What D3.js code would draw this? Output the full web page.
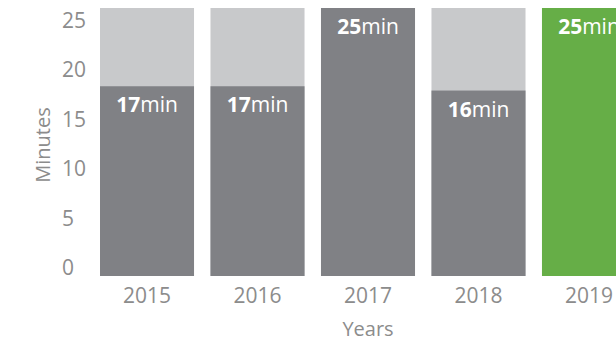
<!DOCTYPE html>
<html>
<head>
<meta charset="utf-8">
<script src="https://cdn.jsdelivr.net/npm/d3@7"></script>
<style>
  html, body { margin: 0; padding: 0; background: #fff; }
  svg { display: block; font-family: "Open Sans", sans-serif; }
</style>
</head>
<body>
<svg width="616" height="341"></svg>
<script>
// DATA
var years = ["2015", "2016", "2017", "2018", "2019"];
var maxMinutes = [25, 25, 25, 25, 25];
var minutes = [17.7, 17.7, 25, 17.3, 25];
var minuteLabels = [17, 17, 25, 16, 25];
var yTicks = [0, 5, 10, 15, 20, 25];
var barColors = ["#808185", "#808185", "#808185", "#808185", "#66ae47"];

var svg = d3.select("svg");

var x = d3.scaleBand().domain(years).range([100, 636]).paddingInner(0.149).paddingOuter(0);
var y = d3.scaleLinear().domain([0, 25]).range([276, 8]);
// tick labels sit on their own slightly tighter scale
var yLab = d3.scaleLinear().domain([0, 25]).range([275, 28]);

// background bars
svg.append("g").selectAll("rect").data(years).enter().append("rect")
    .attr("x", function(d) { return x(d); })
    .attr("y", function(d, i) { return y(maxMinutes[i]); })
    .attr("width", x.bandwidth())
    .attr("height", function(d, i) { return y(0) - y(maxMinutes[i]); })
    .attr("fill", "#c8c9cb");

// value bars
svg.append("g").selectAll("rect").data(years).enter().append("rect")
    .attr("x", function(d) { return x(d); })
    .attr("y", function(d, i) { return y(minutes[i]); })
    .attr("width", x.bandwidth())
    .attr("height", function(d, i) { return y(0) - y(minutes[i]); })
    .attr("fill", function(d, i) { return barColors[i]; });

// value labels
var lbl = svg.append("g").selectAll("text").data(years).enter().append("text")
    .attr("x", function(d) { return x(d) + x.bandwidth() / 2; })
    .attr("y", function(d, i) { return y(minutes[i]) + 26; })
    .attr("text-anchor", "middle")
    .attr("fill", "#fff")
    .style("font-size", "21px");
lbl.append("tspan").style("font-weight", "bold").text(function(d, i) { return minuteLabels[i]; });
lbl.append("tspan").text("min");

// y tick labels
svg.append("g").selectAll("text").data(yTicks).enter().append("text")
    .attr("x", 62)
    .attr("y", function(d) { return yLab(d); })
    .attr("fill", "#8c8c8c")
    .style("font-size", "21px")
    .text(function(d) { return d; });

// x labels
svg.append("g").selectAll("text").data(years).enter().append("text")
    .attr("x", function(d) { return x(d) + x.bandwidth() / 2; })
    .attr("y", 303)
    .attr("text-anchor", "middle")
    .attr("fill", "#8c8c8c")
    .style("font-size", "21px")
    .text(function(d) { return d; });

// axis titles
svg.append("text")
    .attr("transform", "translate(50,145) rotate(-90)")
    .attr("text-anchor", "middle")
    .attr("fill", "#8c8c8c")
    .style("font-size", "20px")
    .text("Minutes");

svg.append("text")
    .attr("x", x("2017") + x.bandwidth() / 2)
    .attr("y", 336)
    .attr("text-anchor", "middle")
    .attr("fill", "#8c8c8c")
    .style("font-size", "20px")
    .text("Years");
</script>
</body>
</html>
